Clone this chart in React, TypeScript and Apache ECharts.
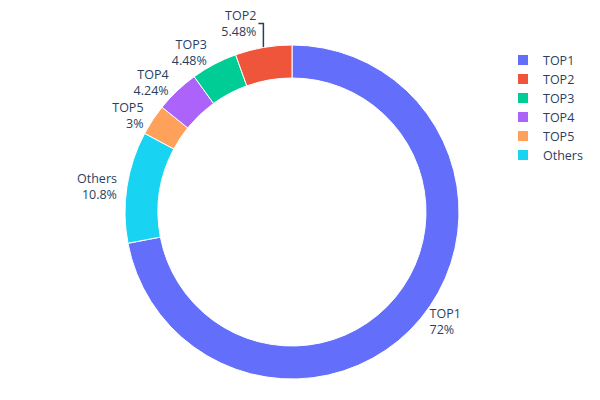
import React, { useEffect, useRef } from "react";
import * as echarts from "echarts";

const legendOrder = ["TOP1", "TOP2", "TOP3", "TOP4", "TOP5", "Others"];
const sliceNames = ["TOP1", "Others", "TOP5", "TOP4", "TOP3", "TOP2"];
const sliceValues = [72, 10.8, 3, 4.24, 4.48, 5.48];
const colorMap: Record<string, string> = {
  TOP1: "#636efa",
  TOP2: "#EF553B",
  TOP3: "#00cc96",
  TOP4: "#ab63fa",
  TOP5: "#FFA15A",
  Others: "#19d3f3",
};

const textColor = "#2a3f5f";
const font = "'Open Sans', 'DejaVu Sans', sans-serif";
const CX = 292;
const CY = 212;
const R_OUT = 167;
const R_IN = 134;

export default function App() {
  const ref = useRef<HTMLDivElement>(null);
  useEffect(() => {
    if (!ref.current) return;
    const chart = echarts.init(ref.current, undefined, { renderer: "svg" });
    const data = sliceNames.map((n, i) => {
      const isTop2 = n === "TOP2";
      return {
        name: n,
        value: sliceValues[i],
        itemStyle: { color: colorMap[n] },
        labelLine: isTop2
          ? { show: true, length: 22, length2: 4, lineStyle: { color: textColor, width: 1.5 } }
          : { show: false, length: 5, length2: 0 },
      };
    });
    const top2Index = sliceNames.indexOf("TOP2");
    chart.setOption({
      animation: false,
      backgroundColor: "#fff",
      legend: {
        orient: "vertical",
        left: 516,
        top: 53,
        padding: 0,
        itemWidth: 12,
        itemHeight: 12,
        itemGap: 5,
        icon: "rect",
        data: legendOrder,
        textStyle: {
          color: textColor,
          fontFamily: font,
          fontSize: 12.5,
          padding: [0, 0, 0, 9],
        },
      },
      series: [
        {
          type: "pie",
          center: [CX, CY],
          radius: [R_IN, R_OUT],
          startAngle: 90,
          clockwise: true,
          avoidLabelOverlap: false,
          data,
          itemStyle: { borderColor: "#fff", borderWidth: 1 },
          label: {
            show: true,
            position: "outside",
            formatter: (p: any) => `${p.name}\n${p.value}%`,
            color: textColor,
            fontFamily: font,
            fontSize: 12.5,
            lineHeight: 16,
            distanceToLabelLine: 5,
          },
          labelLayout: (p: any) => {
            if (p.dataIndex === top2Index && p.labelLinePoints) {
              const a = p.labelLinePoints[0];
              const ly = a[1] - 24;
              return {
                x: a[0] - 7,
                y: ly,
                align: "right",
                verticalAlign: "middle",
                labelLinePoints: [
                  [a[0], a[1]],
                  [a[0], ly],
                  [a[0] - 5, ly],
                ],
              };
            }
            const r = p.labelRect;
            const mid = r.y + r.height / 2;
            const dy = (mid - CY) / (R_OUT + 8);
            const off = -Math.max(0, -dy - 0.45) * 18;
            return { y: mid + off, verticalAlign: "middle" };
          },
          emphasis: { disabled: true },
        },
      ],
    });
    return () => chart.dispose();
  }, []);
  return (
    <div
      ref={ref}
      style={{ position: "fixed", left: 0, top: 0, width: 600, height: 400 }}
    />
  );
}
